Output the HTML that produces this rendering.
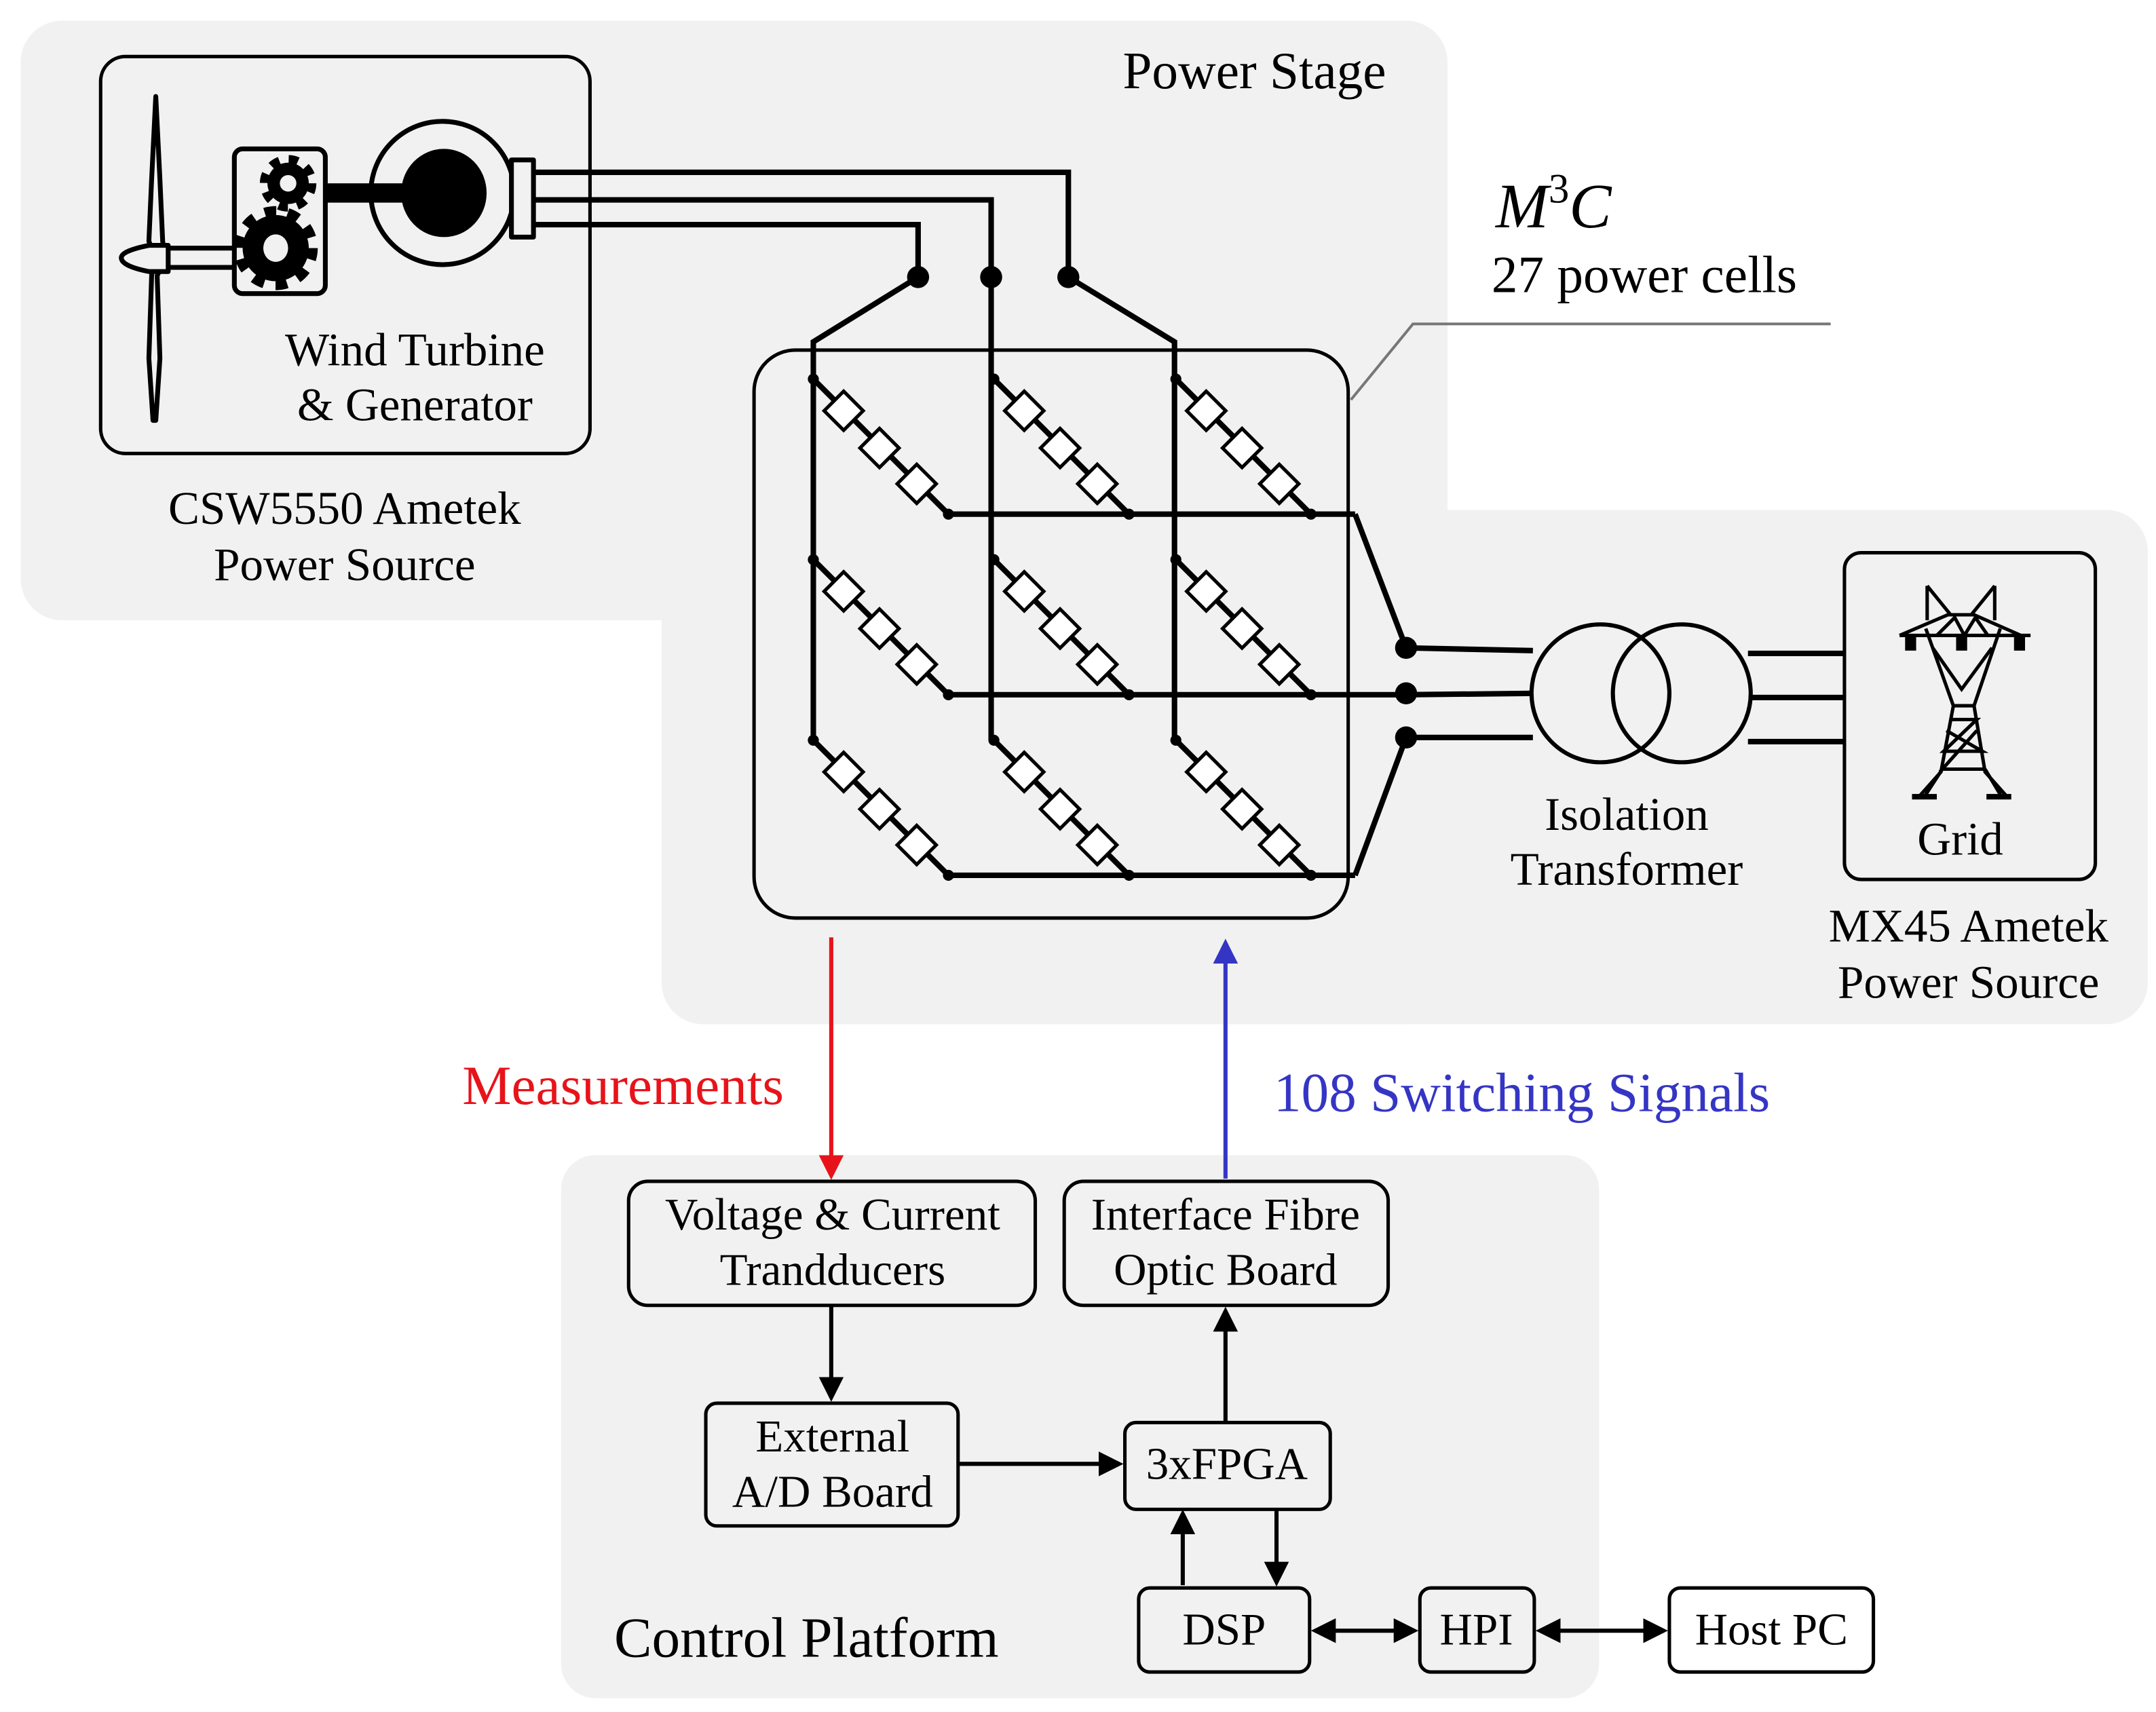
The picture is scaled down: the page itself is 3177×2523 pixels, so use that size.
<!DOCTYPE html>
<html><head><meta charset="utf-8"><style>html,body{margin:0;padding:0;background:#fff}svg{display:block}text{font-family:"Liberation Serif",serif;fill:#000}</style></head>
<body>
<svg width="3177" height="2523" viewBox="0 0 1564 1242" preserveAspectRatio="none" xmlns="http://www.w3.org/2000/svg">
<rect x="0" y="0" width="1564" height="1242" fill="#fff"/>
<g fill="#f1f1f1">
<rect x="15" y="15" width="1035" height="435" rx="30"/>
<rect x="480" y="15" width="570" height="728" rx="30"/>
<rect x="480" y="370" width="1078" height="373" rx="30"/>
<rect x="407" y="838" width="753" height="394" rx="25"/>
</g>
<g fill="none" stroke="#000" stroke-width="2.5">
<rect x="73" y="41" width="355" height="288" rx="18"/>
<rect x="547" y="254" width="431" height="412" rx="30"/>
<rect x="1338" y="401" width="182" height="237" rx="12"/>
</g>
<!-- turbine -->
<g stroke="#000" stroke-width="3.5" fill="#f1f1f1" stroke-linejoin="round">
<path d="M170,180 L121,180 L121,194 L170,194"/>
<path d="M113,70 L110,130 L108,175 L112,185 L110,200 L108,260 L111,305 L113,305 L116,260 L114,200 L120,188 L118,175 L116,130 Z"/>
<path d="M122,178 L108,178 Q88,182 88,187 Q88,193 108,197 L122,197 Z"/>
<rect x="170" y="108" width="66" height="105" rx="6"/>
<ellipse cx="321" cy="140" rx="52" ry="52"/>
<rect x="371" y="116" width="16" height="56" fill="#f1f1f1"/>
</g>
<g fill="#000">
<rect x="236" y="133" width="60" height="14"/>
<ellipse cx="322" cy="140" rx="31" ry="32"/>
<circle cx="209" cy="133" r="15"/><circle cx="200" cy="180" r="24"/>
</g>
<g stroke="#000" stroke-width="7" fill="none">
<circle cx="209" cy="133" r="17" stroke-dasharray="6.7 6.7"/><circle cx="200" cy="180" r="27" stroke-dasharray="8.5 8.5"/>
</g>
<g fill="#f1f1f1"><circle cx="209" cy="133" r="6"/><ellipse cx="200" cy="180" rx="9" ry="10"/></g>
<!-- generator outputs -->
<g stroke="#000" stroke-width="4" fill="none">
<polyline points="388,125 775,125 775,201"/>
<polyline points="388,145 719,145 719,201"/>
<polyline points="388,163 666,163 666,201"/>
<polyline points="666,201 590,248 590,537"/>
<polyline points="719,201 719,537"/>
<polyline points="775,201 852,248 852,537"/>
<line x1="688" y1="373" x2="983" y2="373"/>
<line x1="688" y1="504" x2="1020" y2="504"/>
<line x1="688" y1="635" x2="983" y2="635"/>
<polyline points="983,373 1020,470 1112,472"/>
<polyline points="1020,504 1112,503"/>
<polyline points="983,635 1020,535 1112,535"/>
<line x1="1268" y1="474" x2="1338" y2="474"/>
<line x1="1270" y1="506" x2="1338" y2="506"/>
<line x1="1268" y1="538" x2="1338" y2="538"/>
</g>
<g fill="#000">
<circle cx="666" cy="201" r="8"/><circle cx="719" cy="201" r="8"/><circle cx="775" cy="201" r="8"/>
<circle cx="1020" cy="470" r="8"/><circle cx="1020" cy="503" r="8"/><circle cx="1020" cy="535" r="8"/>
</g>
<!-- cells -->
<defs>
<g id="br">
<line x1="0" y1="0" x2="98" y2="98" stroke="#000" stroke-width="4"/>
<circle cx="0" cy="0" r="4" fill="#000"/><circle cx="98" cy="98" r="4" fill="#000"/>
<g fill="#fff" stroke="#000" stroke-width="2.5">
<rect x="-10" y="-10" width="20" height="20" transform="translate(22,23) rotate(45)"/>
<rect x="-10" y="-10" width="20" height="20" transform="translate(48,50) rotate(45)"/>
<rect x="-10" y="-10" width="20" height="20" transform="translate(75,76) rotate(45)"/>
</g>
</g>
</defs>
<use href="#br" x="590" y="275"/><use href="#br" x="721" y="275"/><use href="#br" x="853" y="275"/>
<use href="#br" x="590" y="406"/><use href="#br" x="721" y="406"/><use href="#br" x="853" y="406"/>
<use href="#br" x="590" y="537"/><use href="#br" x="721" y="537"/><use href="#br" x="853" y="537"/>
<!-- transformer -->
<g fill="none" stroke="#000" stroke-width="3"><circle cx="1161" cy="503" r="50"/><circle cx="1220" cy="503" r="50"/></g>
<!-- pylon -->
<g stroke="#000" stroke-width="2.5" fill="none">
<path d="M1398,425 L1398,450 M1398,425 L1415,446 M1447,425 L1447,450 M1447,425 L1430,446"/>
<path d="M1378,461 L1473,461 M1378,461 L1413,446 L1432,446 L1466,461"/>
<path d="M1397,456 L1417,512 L1408,560 L1392,578 M1451,456 L1432,512 L1440,560 L1456,578"/>
<path d="M1402,470 L1423,500 L1445,470 M1405,461 L1418,448 L1425,461 L1433,448 L1442,461"/>
<path d="M1417,512 L1432,512 M1415,522 L1434,522 L1410,545 L1438,545 L1412,530 M1434,530 L1409,558 L1440,558"/>
<path d="M1409,558 L1396,578 M1440,558 L1452,578"/>
</g>
<g fill="#000"><rect x="1387" y="576" width="18" height="4"/><rect x="1441" y="576" width="18" height="4"/>
<rect x="1382" y="462" width="8" height="10"/><rect x="1419" y="462" width="8" height="10"/><rect x="1461" y="462" width="8" height="10"/></g>
<!-- leader -->
<polyline points="980,290 1025,235 1328,235" fill="none" stroke="#777" stroke-width="2"/>
<!-- texts -->
<g font-size="34">
<text x="910" y="64" text-anchor="middle" font-size="38">Power Stage</text>
<text x="1085" y="165" font-style="italic" font-size="46">M<tspan font-size="30" dy="-18" font-style="normal">3</tspan><tspan dy="18">C</tspan></text>
<text x="1082" y="212" font-size="38">27 power cells</text>
<text x="301" y="265" text-anchor="middle">Wind Turbine</text>
<text x="301" y="305" text-anchor="middle">&amp; Generator</text>
<text x="250" y="380" text-anchor="middle">CSW5550 Ametek</text>
<text x="250" y="421" text-anchor="middle">Power Source</text>
<text x="1180" y="602" text-anchor="middle">Isolation</text>
<text x="1180" y="642" text-anchor="middle">Transformer</text>
<text x="1422" y="620" text-anchor="middle">Grid</text>
<text x="1428" y="683" text-anchor="middle">MX45 Ametek</text>
<text x="1428" y="724" text-anchor="middle">Power Source</text>
<text x="452" y="801" text-anchor="middle" style="fill:#e8131a" font-size="40">Measurements</text>
<text x="1104" y="806" text-anchor="middle" style="fill:#3535c5" font-size="40">108 Switching Signals</text>
<text x="585" y="1202" text-anchor="middle" font-size="41">Control Platform</text>
</g>
<!-- control boxes -->
<g fill="none" stroke="#000" stroke-width="2.5">
<rect x="456" y="857" width="295" height="90" rx="14"/>
<rect x="772" y="857" width="235" height="90" rx="14"/>
<rect x="512" y="1018" width="183" height="89" rx="8"/>
<rect x="816" y="1032" width="149" height="63" rx="8"/>
<rect x="826" y="1152" width="124" height="61" rx="8"/>
<rect x="1030" y="1152" width="83" height="61" rx="8"/>
<rect x="1211" y="1152" width="148" height="61" rx="8"/>
</g>
<g font-size="33" text-anchor="middle">
<text x="604" y="892">Voltage &amp; Current</text><text x="604" y="932">Trandducers</text>
<text x="889" y="892">Interface Fibre</text><text x="889" y="932">Optic Board</text>
<text x="604" y="1053">External</text><text x="604" y="1093">A/D Board</text>
<text x="890" y="1073">3xFPGA</text>
<text x="888" y="1193">DSP</text>
<text x="1071" y="1193">HPI</text>
<text x="1285" y="1193">Host PC</text>
</g>
<!-- arrows -->
<defs>
<marker id="ak" markerWidth="6" markerHeight="6" refX="5" refY="3" orient="auto-start-reverse" markerUnits="strokeWidth"><path d="M0,0 L6,3 L0,6Z" fill="#000"/></marker>
<marker id="ar" markerWidth="6" markerHeight="6" refX="5" refY="3" orient="auto" markerUnits="strokeWidth"><path d="M0,0 L6,3 L0,6Z" fill="#e8131a"/></marker>
<marker id="ab" markerWidth="6" markerHeight="6" refX="5" refY="3" orient="auto" markerUnits="strokeWidth"><path d="M0,0 L6,3 L0,6Z" fill="#3535c5"/></marker>
</defs>
<line x1="603" y1="680" x2="603" y2="853" stroke="#e8131a" stroke-width="3" marker-end="url(#ar)"/>
<line x1="889" y1="855" x2="889" y2="684" stroke="#3535c5" stroke-width="3" marker-end="url(#ab)"/>
<g stroke="#000" stroke-width="3">
<line x1="603" y1="947" x2="603" y2="1014" marker-end="url(#ak)"/>
<line x1="695" y1="1062" x2="812" y2="1062" marker-end="url(#ak)"/>
<line x1="889" y1="1031" x2="889" y2="951" marker-end="url(#ak)"/>
<line x1="858" y1="1150" x2="858" y2="1098" marker-end="url(#ak)"/>
<line x1="926" y1="1096" x2="926" y2="1148" marker-end="url(#ak)"/>
<line x1="954" y1="1183" x2="1026" y2="1183" marker-start="url(#ak)" marker-end="url(#ak)"/>
<line x1="1117" y1="1183" x2="1207" y2="1183" marker-start="url(#ak)" marker-end="url(#ak)"/>
</g>
</svg>
</body></html>
